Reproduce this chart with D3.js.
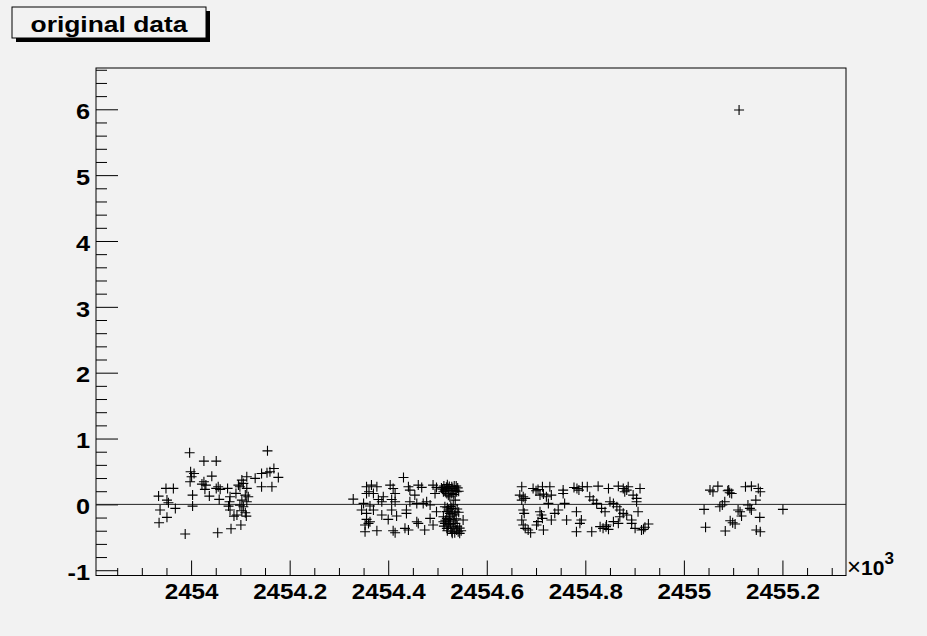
<!DOCTYPE html>
<html>
<head>
<meta charset="utf-8">
<script src="https://cdn.jsdelivr.net/npm/d3@7/dist/d3.min.js"></script>
<style>
  body { margin: 0; background: #f2f2f2; }
  svg { display: block; }
  text { font-family: "Liberation Sans", Arial, Helvetica, sans-serif; }
</style>
</head>
<body>
<svg id="chart" width="927" height="636"></svg>
<script>
// ---- data (x in units of 10^3) ----
const title = "original data";
const xTickValues = [2454, 2454.2, 2454.4, 2454.6, 2454.8, 2455, 2455.2];
const xTickLabels = ["2454", "2454.2", "2454.4", "2454.6", "2454.8", "2455", "2455.2"];
const yTickValues = [-1, 0, 1, 2, 3, 4, 5, 6];
const yTickLabels = ["-1", "0", "1", "2", "3", "4", "5", "6"];
const xExponent = "3";

const season1 = [
  [2453.934, 0.126], [2453.949, 0.243], [2453.964, 0.243], [2453.951, 0.065], [2453.954, 0.024],
  [2453.937, -0.086], [2453.968, -0.061], [2453.951, -0.197], [2453.935, -0.279], [2453.988, -0.450],
  [2453.997, 0.783], [2454.026, 0.657], [2454.051, 0.657], [2454.155, 0.813],
  [2453.999, 0.495], [2454.006, 0.470], [2454.001, 0.419], [2453.998, 0.343], [2454.003, 0.141],
  [2454.003, -0.026], [2454.042, 0.429], [2454.026, 0.343], [2454.022, 0.308], [2454.030, 0.293],
  [2454.028, 0.228], [2454.037, 0.126], [2454.055, 0.267], [2454.059, 0.228], [2454.051, 0.243],
  [2454.074, 0.243], [2454.057, 0.076], [2454.054, -0.431], [2454.081, -0.370], [2454.101, -0.314],
  [2454.079, 0.115], [2454.078, 0.039], [2454.076, -0.026], [2454.079, -0.086], [2454.091, 0.167],
  [2454.099, 0.267], [2454.106, 0.319], [2454.103, 0.369], [2454.113, 0.419], [2454.113, 0.243],
  [2454.116, 0.115], [2454.103, 0.065], [2454.106, -0.036], [2454.110, -0.127], [2454.093, -0.162],
  [2454.087, -0.178], [2454.112, -0.178], [2454.130, 0.395], [2454.143, 0.470], [2454.154, 0.480],
  [2454.168, 0.546], [2454.177, 0.410], [2454.143, 0.267], [2454.164, 0.267], [2454.160, 0.495],
  [2454.096, 0.293], [2454.110, 0.141], [2454.099, -0.011], [2454.113, 0.039], [2454.103, -0.097]
];

const season2 = [
  [2454.329, 0.080], [2454.431, 0.409], [2454.356, 0.268], [2454.366, 0.293], [2454.377, 0.268],
  [2454.361, 0.192], [2454.356, 0.166], [2454.370, 0.166], [2454.404, 0.293], [2454.410, 0.242],
  [2454.414, 0.166], [2454.407, 0.075], [2454.414, 0.040], [2454.441, 0.268], [2454.444, 0.217],
  [2454.461, 0.293], [2454.468, 0.258], [2454.491, 0.293], [2454.498, 0.258], [2454.380, 0.075],
  [2454.387, 0.040], [2454.390, 0.116], [2454.350, 0.015], [2454.363, -0.025], [2454.346, -0.086],
  [2454.356, -0.137], [2454.370, -0.086], [2454.407, -0.086], [2454.437, -0.086], [2454.458, 0.015],
  [2454.471, 0.015], [2454.478, 0.040], [2454.485, -0.010], [2454.495, 0.166], [2454.454, 0.141],
  [2454.444, 0.040], [2454.387, -0.162], [2454.400, -0.228], [2454.417, -0.177], [2454.437, -0.137],
  [2454.356, -0.228], [2454.363, -0.263], [2454.360, -0.289], [2454.353, -0.314], [2454.353, -0.415],
  [2454.377, -0.400], [2454.410, -0.400], [2454.414, -0.430], [2454.434, -0.364], [2454.441, -0.390],
  [2454.474, -0.390], [2454.491, -0.314], [2454.458, -0.263], [2454.461, -0.289], [2454.485, -0.213],
  [2454.498, -0.111], [2454.552, -0.238],
  [2454.515, 0.217], [2454.522, 0.242], [2454.529, 0.268], [2454.536, 0.217], [2454.519, 0.166],
  [2454.529, 0.166], [2454.539, 0.192], [2454.525, 0.116], [2454.512, 0.192], [2454.534, 0.278],
  [2454.518, 0.260], [2454.527, 0.210], [2454.541, 0.250], [2454.522, 0.140],
  [2454.508, 0.250], [2454.513, 0.280], [2454.520, 0.300], [2454.531, 0.240], [2454.538, 0.280],
  [2454.543, 0.200], [2454.516, 0.200], [2454.533, 0.150], [2454.524, 0.270], [2454.510, 0.230],
  [2454.536, 0.065], [2454.515, -0.036], [2454.522, -0.086], [2454.529, -0.060], [2454.536, -0.111],
  [2454.525, -0.137], [2454.532, -0.010], [2454.519, -0.110], [2454.540, -0.070],
  [2454.527, -0.030], [2454.534, -0.160], [2454.520, -0.050], [2454.543, -0.120], [2454.530, -0.130],
  [2454.512, -0.188], [2454.519, -0.213], [2454.525, -0.263], [2454.515, -0.289], [2454.522, -0.314],
  [2454.532, -0.339], [2454.539, -0.390], [2454.529, -0.415], [2454.519, -0.364], [2454.536, -0.289],
  [2454.525, -0.188], [2454.542, -0.415], [2454.512, -0.263], [2454.530, -0.440], [2454.545, -0.360],
  [2454.516, -0.240], [2454.523, -0.230], [2454.533, -0.240], [2454.540, -0.330], [2454.527, -0.360],
  [2454.520, -0.400], [2454.535, -0.430], [2454.545, -0.440], [2454.513, -0.330], [2454.526, -0.300],
  [2454.538, -0.220], [2454.548, -0.400]
];

const season3 = [
  [2454.671, 0.267], [2454.667, 0.141], [2454.674, 0.116], [2454.671, 0.065], [2454.678, 0.091],
  [2454.694, 0.242], [2454.700, 0.207], [2454.704, 0.227], [2454.713, 0.267], [2454.715, 0.156],
  [2454.728, 0.267], [2454.731, 0.141], [2454.721, 0.116], [2454.708, 0.141], [2454.755, 0.217],
  [2454.755, 0.166], [2454.777, 0.257], [2454.783, 0.242], [2454.787, 0.217], [2454.794, 0.267],
  [2454.804, 0.267], [2454.826, 0.277], [2454.847, 0.242], [2454.867, 0.277], [2454.877, 0.242],
  [2454.884, 0.217], [2454.887, 0.267], [2454.880, 0.191], [2454.897, 0.141], [2454.911, 0.242],
  [2454.904, 0.091], [2454.809, 0.116], [2454.816, 0.065], [2454.823, 0.015], [2454.850, 0.040],
  [2454.857, 0.015], [2454.864, -0.035], [2454.870, -0.086], [2454.877, -0.136], [2454.884, -0.161],
  [2454.894, -0.237], [2454.833, -0.060], [2454.840, -0.111], [2454.758, 0.015], [2454.725, 0.015],
  [2454.904, 0.040], [2454.907, -0.111], [2454.674, -0.086], [2454.676, -0.136], [2454.671, -0.237],
  [2454.674, -0.313], [2454.684, -0.389], [2454.689, -0.430], [2454.678, -0.364], [2454.708, -0.111],
  [2454.711, -0.161], [2454.713, -0.212], [2454.704, -0.262], [2454.701, -0.313], [2454.745, -0.086],
  [2454.738, -0.136], [2454.731, -0.237], [2454.715, -0.389], [2454.762, -0.237], [2454.782, -0.111],
  [2454.792, -0.237], [2454.789, -0.288], [2454.782, -0.415], [2454.813, -0.415], [2454.830, -0.338],
  [2454.836, -0.364], [2454.842, -0.338], [2454.847, -0.379], [2454.843, -0.313], [2454.857, -0.262],
  [2454.867, -0.288], [2454.870, -0.187], [2454.894, -0.288], [2454.901, -0.364], [2454.918, -0.379],
  [2454.921, -0.348], [2454.928, -0.298], [2454.914, -0.389]
];

const season4 = [
  [2455.053, 0.217], [2455.059, 0.191], [2455.069, 0.277], [2455.089, 0.207], [2455.093, 0.176],
  [2455.097, 0.166], [2455.091, 0.217], [2455.125, 0.267], [2455.137, 0.277], [2455.151, 0.242],
  [2455.155, 0.191], [2455.146, 0.065], [2455.083, 0.040], [2455.073, -0.035], [2455.078, -0.010],
  [2455.041, -0.076], [2455.110, -0.086], [2455.114, -0.111], [2455.130, -0.010], [2455.134, -0.060],
  [2455.137, -0.086], [2455.117, -0.177], [2455.094, -0.248], [2455.099, -0.278], [2455.104, -0.298],
  [2455.154, -0.197], [2455.044, -0.348], [2455.084, -0.404], [2455.147, -0.389], [2455.155, -0.415],
  [2455.201, -0.076]
];

const outliers = [[2455.112, 5.99]];

// ---- layout ----
const svg = d3.select("#chart");
const frame = { left: 96, right: 846, top: 68, bottom: 575.5 };
const x = d3.scaleLinear().domain([2453.807, 2455.329]).range([frame.left, frame.right]);
const y = d3.scaleLinear().domain([-1.08, 6.627]).range([frame.bottom, frame.top]);

svg.append("rect").attr("width", 927).attr("height", 636).attr("fill", "#f2f2f2");

// stretch text horizontally a little (wide Helvetica look)
function widen(sel, k) {
  sel.each(function () {
    const len = this.getComputedTextLength();
    d3.select(this).attr("textLength", len * k).attr("lengthAdjust", "spacingAndGlyphs");
  });
}

// minor ticks
const xMinor = d3.range(2453.85, 2455.33, 0.05).filter(v => !xTickValues.some(t => Math.abs(t - v) < 1e-6));
const yMinor = d3.range(-1, 6.63, 0.2).filter(v => !yTickValues.some(t => Math.abs(t - v) < 1e-6));

const xMinorAxis = d3.axisBottom(x).tickValues(xMinor).tickSize(-7.5).tickSizeOuter(0).tickFormat("");
const yMinorAxis = d3.axisLeft(y).tickValues(yMinor).tickSize(-11).tickSizeOuter(0).tickFormat("");
svg.append("g").attr("transform", `translate(0,${frame.bottom})`).call(xMinorAxis);
svg.append("g").attr("transform", `translate(${frame.left},0)`).call(yMinorAxis);

const xAxis = d3.axisBottom(x).tickValues(xTickValues).tickSize(-15).tickSizeOuter(0)
  .tickPadding(8).tickFormat((d, i) => xTickLabels[i]);
const yAxis = d3.axisLeft(y).tickValues(yTickValues).tickSize(-22).tickSizeOuter(0)
  .tickPadding(6).tickFormat((d, i) => yTickLabels[i]);
const gx = svg.append("g").attr("transform", `translate(0,${frame.bottom})`).call(xAxis);
const gy = svg.append("g").attr("transform", `translate(${frame.left},0)`).call(yAxis);

svg.selectAll(".domain").remove();
svg.selectAll(".tick line").attr("stroke", "#000").attr("stroke-width", 1);
gx.selectAll("text").attr("font-size", 22).attr("font-weight", "bold").attr("fill", "#000")
  .attr("font-family", '"Liberation Sans", Arial, Helvetica, sans-serif');
gy.selectAll("text").attr("font-size", 22).attr("font-weight", "bold").attr("fill", "#000")
  .attr("dy", "0.42em").attr("font-family", '"Liberation Sans", Arial, Helvetica, sans-serif');
widen(gx.selectAll("text"), 1.1);
widen(gy.selectAll("text"), 1.15);

// frame
svg.append("rect")
  .attr("x", frame.left).attr("y", frame.top)
  .attr("width", frame.right - frame.left).attr("height", frame.bottom - frame.top)
  .attr("fill", "none").attr("stroke", "#000").attr("stroke-width", 1);

// zero line
svg.append("line")
  .attr("x1", x.range()[0]).attr("x2", x.range()[1])
  .attr("y1", y(0)).attr("y2", y(0))
  .attr("stroke", "#222").attr("stroke-width", 1);

// markers
const allPoints = [].concat(season1, season2, season3, season4, outliers);
svg.append("g").selectAll("path").data(allPoints).join("path")
  .attr("transform", d => `translate(${x(d[0])},${y(d[1])})`)
  .attr("d", "M-5,0H5M0,-5V5")
  .attr("stroke", "#000").attr("stroke-width", 1.1).attr("fill", "none");

// exponent label
const exp = svg.append("text").attr("x", 847).attr("y", 575).attr("fill", "#000");
exp.append("tspan").attr("font-size", 24).text("\u00d7");
exp.append("tspan").attr("font-weight", "bold").attr("font-size", 21).text("10");
exp.append("tspan").attr("font-weight", "bold").attr("font-size", 17).attr("dy", -11).text(xExponent);

// title box with shadow
const tb = { x: 12, y: 7, w: 194, h: 31 };
svg.append("rect").attr("x", tb.x + 4).attr("y", tb.y + 4).attr("width", tb.w).attr("height", tb.h).attr("fill", "#000");
svg.append("rect").attr("x", tb.x).attr("y", tb.y).attr("width", tb.w).attr("height", tb.h)
  .attr("fill", "#f2f2f2").attr("stroke", "#000").attr("stroke-width", 1);
svg.append("text").attr("x", tb.x + tb.w / 2).attr("y", 32).attr("text-anchor", "middle")
  .attr("font-size", 22).attr("font-weight", "bold").attr("fill", "#000")
  .attr("textLength", 157).attr("lengthAdjust", "spacingAndGlyphs").text(title);
</script>
</body>
</html>
